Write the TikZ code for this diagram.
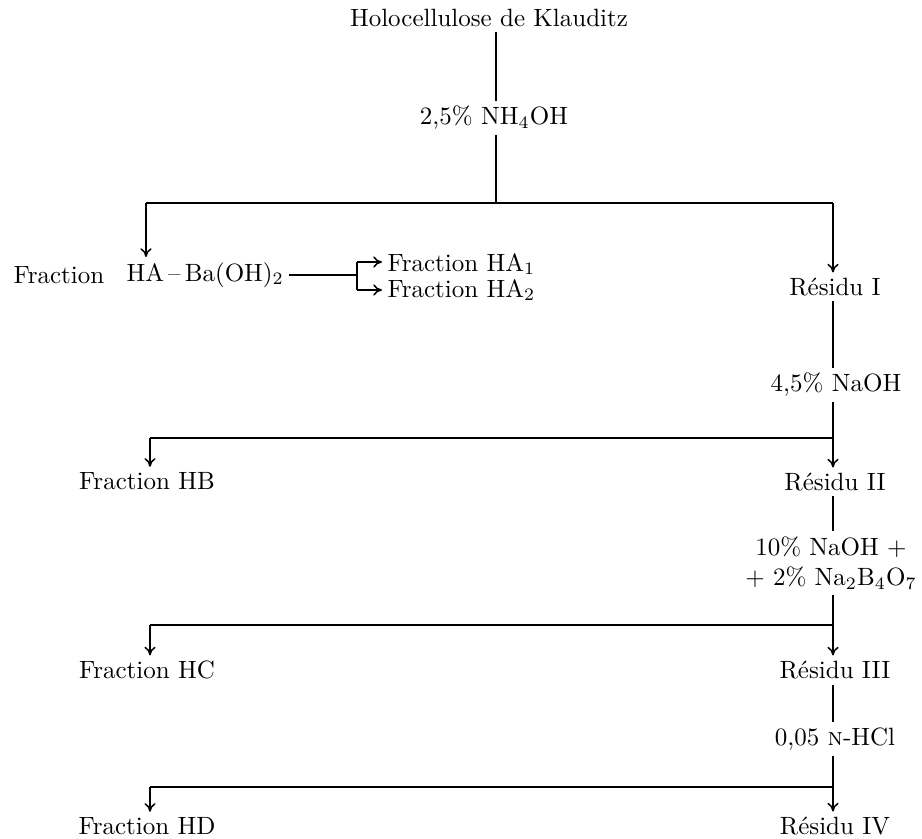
\documentclass[tikz,border=0pt]{standalone}
\usetikzlibrary{arrows.meta}
\begin{document}
\begin{tikzpicture}[x=0.4pt,y=-0.4pt,
  lbl/.style={inner sep=2pt,font=\fontsize{10}{12}\selectfont},
  ln/.style={line width=0.6pt},
  arr/.style={ln,-{To[length=3.5pt,width=4.5pt]}}]
\useasboundingbox (0,0) rectangle (922,839);
% nodes
\node[lbl] (title) at (489,18) {Holocellulose de Klauditz};
\node[lbl] (l1) at (494,118) {2,5\% NH$_4$OH};
\coordinate (j1) at (496,203);
\coordinate (jL1) at (146,203);
\coordinate (jR1) at (833,203);
\node[lbl,anchor=west] (frac) at (8,275) {Fraction};
\node[lbl,anchor=west] (ha) at (121,275) {HA\,--\,Ba(OH)$_2$};
\coordinate (br) at (357,275);
\coordinate (brT) at (357,262);
\coordinate (brB) at (357,290);
\node[lbl,anchor=west] (ha1) at (382,264) {Fraction HA$_1$};
\node[lbl,anchor=west] (ha2) at (382,290) {Fraction HA$_2$};
\node[lbl] (r1) at (835,287) {Résidu I};
\node[lbl] (l2) at (836,385) {4,5\% NaOH};
\coordinate (j2) at (833,438);
\coordinate (jL2) at (150,438);
\node[lbl] (hb) at (147,481) {Fraction HB};
\node[lbl] (r2) at (835,482) {Résidu II};
\node[lbl,align=center] (l3) at (831,563) {10\% NaOH +\\+ 2\% Na$_2$B$_4$O$_7$};
\coordinate (j3) at (833,625);
\coordinate (jL3) at (150,625);
\node[lbl] (hc) at (147,670) {Fraction HC};
\node[lbl] (r3) at (835,670) {Résidu III};
\node[lbl] (l4) at (835,739) {0,05 \textsc{n}-HCl};
\coordinate (j4) at (833,787);
\coordinate (jL4) at (150,787);
\node[lbl] (hd) at (147,826) {Fraction HD};
\node[lbl] (r4) at (835,826) {Résidu IV};
% connectors
\draw[ln] (title.south -| j1) -- (l1.north -| j1);
\draw[ln] (l1.south -| j1) -- (j1);
\draw[ln] (jL1) -- (jR1);
\draw[arr] (jL1) -- (jL1 |- ha.north);
\draw[arr] (jR1) -- (r1.north -| jR1);
\draw[ln] (ha.east) -- (br);
\draw[ln] (brT) -- (brB);
\draw[arr] (brT) -- (ha1.west |- brT);
\draw[arr] (brB) -- (ha2.west |- brB);
\draw[ln] (r1.south -| j2) -- (l2.north -| j2);
\draw[ln] (l2.south -| j2) -- (j2);
\draw[ln] (jL2) -- (j2);
\draw[arr] (jL2) -- (jL2 |- hb.north);
\draw[arr] (j2) -- (r2.north -| j2);
\draw[ln] (r2.south -| j2) -- (l3.north -| j2);
\draw[ln] (l3.south -| j3) -- (j3);
\draw[ln] (jL3) -- (j3);
\draw[arr] (jL3) -- (jL3 |- hc.north);
\draw[arr] (j3) -- (r3.north -| j3);
\draw[ln] (r3.south -| j3) -- (l4.north -| j3);
\draw[ln] (l4.south -| j4) -- (j4);
\draw[ln] (jL4) -- (j4);
\draw[arr] (jL4) -- (jL4 |- hd.north);
\draw[arr] (j4) -- (r4.north -| j4);
\end{tikzpicture}
\end{document}
